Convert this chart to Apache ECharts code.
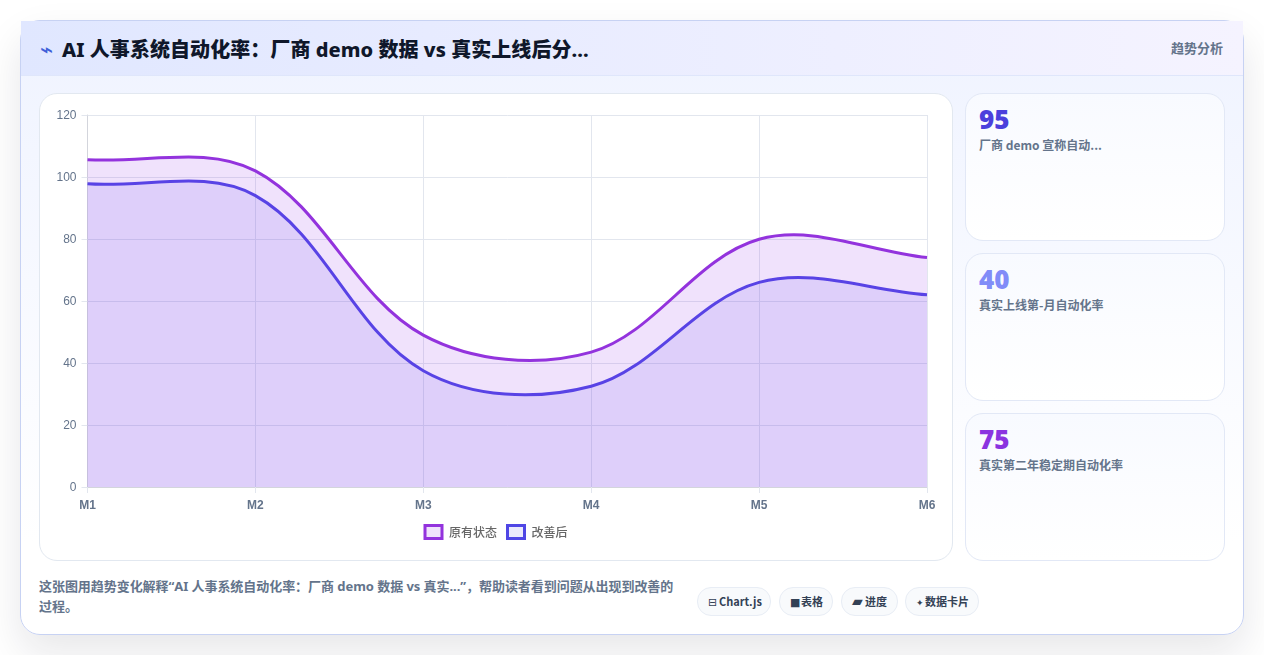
<!DOCTYPE html>
<html lang="zh-CN">
<head>
<meta charset="utf-8">
<title>AI 人事系统自动化率</title>
<script src="https://cdn.jsdelivr.net/npm/echarts@6/dist/echarts.min.js"></script>
<style>
  html, body { margin: 0; padding: 0; width: 1264px; height: 655px; overflow: hidden; background: #fff; }
  body { font-family: "Noto Sans", "Noto Sans CJK SC", sans-serif; position: relative; }
  .card { position: absolute; left: 20px; top: 20px; width: 1222px; height: 613px; border: 1px solid #c7d2f3; border-radius: 20px;
          background: linear-gradient(180deg, #eff3ff 0%, #ffffff 85%); box-shadow: 0 18px 40px rgba(15, 23, 42, .10); }
  .head { position: absolute; left: 0; top: 0; right: 0; height: 54px; border-bottom: 1px solid #dfe6fb;
          background: linear-gradient(90deg, #e0e7ff 0%, #f5f3ff 100%); }
  .head h1 { position: absolute; left: 41px; top: 14px; margin: 0; font: 800 20px/30px "Noto Sans", "Noto Sans CJK SC", sans-serif; letter-spacing: .06px; color: #0f172a; white-space: nowrap; }
  .bolt { position: absolute; left: 19px; top: 14px; font: 400 22px/30px "DejaVu Sans", sans-serif; color: #3f5fd8; }
  .kind { position: absolute; right: 20px; top: 13px; font: 600 13px/28px "Noto Sans CJK SC", sans-serif; color: #64748b; }
  .panel { position: absolute; left: 18px; top: 72px; width: 912px; height: 466px; background: #fff; border: 1px solid #e2e8f0; border-radius: 18px; }
  #chart { position: absolute; left: 0; top: 0; width: 912px; height: 466px; }
  .stat { position: absolute; left: 944px; width: 258px; height: 146px; border: 1px solid #e2e8f6; border-radius: 18px;
          background: linear-gradient(180deg, #f8faff 0%, #ffffff 100%); }
  .stat b { position: absolute; left: 13px; top: 7px; font: 900 26px/36px "Noto Sans", sans-serif; }
  .stat span { position: absolute; left: 13px; top: 42px; font: 700 12px/18px "Noto Sans CJK SC", sans-serif; color: #64748b; white-space: nowrap; }
  .note { position: absolute; left: 18px; top: 555px; width: 640px; font: 700 13px/20px "Noto Sans", "Noto Sans CJK SC", sans-serif; color: #64748b; letter-spacing: -0.05px; }
  .tags { position: absolute; left: 676px; top: 566px; display: flex; gap: 8px; }
  .tags i { font: 700 11px/26px "Noto Sans CJK SC", sans-serif; color: #334155; height: 27px; padding: 0 9px 0 10px; border: 1px solid #e8edf5; border-radius: 14px; background: #f8fafc; white-space: nowrap; }
  .tags em { display: inline-block; font: 400 11px/26px "DejaVu Sans", sans-serif; }
</style>
</head>
<body>
<div class="card">
  <div class="head">
    <span class="bolt">⌁</span>
    <h1>AI 人事系统自动化率：厂商 demo 数据 vs 真实上线后分...</h1>
    <span class="kind">趋势分析</span>
  </div>
  <div class="panel"><div id="chart"></div></div>
  <div class="stat" style="top:72px"><b style="color:#4b40dc">95</b><span>厂商 demo 宣称自动...</span></div>
  <div class="stat" style="top:232px"><b style="color:#818cf8">40</b><span>真实上线第-月自动化率</span></div>
  <div class="stat" style="top:392px"><b style="color:#8b34e0">75</b><span>真实第二年稳定期自动化率</span></div>
  <div class="note">这张图用趋势变化解释“AI 人事系统自动化率：厂商 demo 数据 vs 真实...”，帮助读者看到问题从出现到改善的过程。</div>
  <div class="tags">
    <i style="padding-right:8px"><em style="width:11px">⊟</em>Chart.js</i>
    <i><em style="width:11px">■</em>表格</i>
    <i style="margin-right:-1px;padding-right:10px"><em style="width:13px;font-size:14px">▰</em>进度</i>
    <i><em style="width:9px;font-size:9px">✦</em>数据卡片</i>
  </div>
</div>
<script>
// Monthly automation rate, before and after the improvement
const months = ['M1', 'M2', 'M3', 'M4', 'M5', 'M6'];
const originalValues = [105.6, 102, 49, 43.5, 79.9, 74];
const improvedValues = [97.8, 94, 37.5, 32.5, 66, 62];
const yTicks = { min: 0, max: 120, step: 20 };

const tension = 0.35;

// Builds a cardinal spline through the points using the tangent rule
// (tension weighted by neighbouring segment lengths), which may overshoot.
function splinePath(pts, closeToY) {
  const cps = pts.map((p, i) => {
    const prev = pts[i - 1] || p, next = pts[i + 1] || p;
    const d01 = Math.hypot(p[0] - prev[0], p[1] - prev[1]);
    const d12 = Math.hypot(next[0] - p[0], next[1] - p[1]);
    const sum = d01 + d12 || 1;
    const fa = tension * d01 / sum, fb = tension * d12 / sum;
    return {
      before: [p[0] - fa * (next[0] - prev[0]), p[1] - fa * (next[1] - prev[1])],
      after: [p[0] + fb * (next[0] - prev[0]), p[1] + fb * (next[1] - prev[1])]
    };
  });
  let d = 'M' + pts[0][0] + ' ' + pts[0][1];
  for (let i = 1; i < pts.length; i++) {
    const a = cps[i - 1].after, b = cps[i].before, p = pts[i];
    d += 'C' + a[0] + ' ' + a[1] + ' ' + b[0] + ' ' + b[1] + ' ' + p[0] + ' ' + p[1];
  }
  if (closeToY !== undefined) {
    d += 'L' + pts[pts.length - 1][0] + ' ' + closeToY + 'L' + pts[0][0] + ' ' + closeToY + 'Z';
  }
  return d;
}

function areaSeries(name, values, stroke, fill, z) {
  return {
    name,
    type: 'custom',
    coordinateSystem: 'cartesian2d',
    encode: { x: 0, y: 1 },
    z,
    data: values.map((v, i) => [i, v]),
    itemStyle: { color: fill, borderColor: stroke, borderWidth: 3 },
    renderItem(params, api) {
      // The whole curve is one shape, so it is emitted with the first data item only.
      if (params.dataIndex !== 0) return null;
      const pts = values.map((v, i) => api.coord([i, v]));
      const base = api.coord([0, yTicks.min])[1];
      return {
        type: 'group',
        children: [
          { type: 'path', shape: { pathData: splinePath(pts, base) },
            style: { fill, stroke: null } },
          { type: 'path', shape: { pathData: splinePath(pts) },
            style: { fill: null, stroke, lineWidth: 3, lineJoin: 'round' } }
        ]
      };
    }
  };
}

const originalStroke = '#9333dd';
const improvedStroke = '#4f46e5';
const originalFill = 'rgba(147,51,234,0.14)';
const improvedFill = 'rgba(79,70,229,0.12)';
const gridColor = '#e2e6ee';
const axisEdge = '#d3d5dc';
const chart = echarts.init(document.getElementById('chart'), null, { renderer: 'canvas' });
chart.setOption({
  animation: false,
  textStyle: { fontFamily: '"Liberation Sans", Arial, sans-serif' },
  grid: { left: 47.5, right: 25, top: 21, height: 372 },
  legend: {
    top: 425,
    left: 378.5,
    itemWidth: 17,
    itemHeight: 13,
    itemGap: 9,
    selectedMode: false,
    textStyle: { fontSize: 12, color: '#666', fontFamily: '"Noto Sans CJK SC", sans-serif', fontWeight: 500, padding: [0, 0, 0, 2] },
    data: [
      { name: '原有状态', icon: 'rect', itemStyle: { color: originalFill, borderColor: originalStroke, borderWidth: 3 } },
      { name: '改善后', icon: 'rect', itemStyle: { color: improvedFill, borderColor: improvedStroke, borderWidth: 3 } }
    ]
  },
  xAxis: {
    type: 'category',
    data: months,
    boundaryGap: false,
    axisLine: { show: true, lineStyle: { color: axisEdge, width: 1 } },
    axisTick: { show: true, length: 6, alignWithLabel: true, lineStyle: { color: gridColor } },
    axisLabel: { color: '#64748b', fontSize: 12, fontWeight: 700, margin: 13 },
    splitLine: { show: true, lineStyle: { color: gridColor, width: 1 } }
  },
  yAxis: {
    type: 'value',
    min: yTicks.min,
    max: yTicks.max,
    interval: yTicks.step,
    axisLine: { show: true, lineStyle: { color: axisEdge, width: 1 } },
    axisTick: { show: true, length: 6, lineStyle: { color: gridColor } },
    // A top-aligned 1px line box sits the digits just under the tick
    axisLabel: { color: '#64748b', fontSize: 12, margin: 11, verticalAlign: 'top', lineHeight: 1 },
    splitLine: { show: true, lineStyle: { color: gridColor, width: 1 } }
  },
  series: [
    areaSeries('原有状态', originalValues, originalStroke, originalFill, 3),
    areaSeries('改善后', improvedValues, improvedStroke, improvedFill, 2)
  ]
});
</script>
</body>
</html>
